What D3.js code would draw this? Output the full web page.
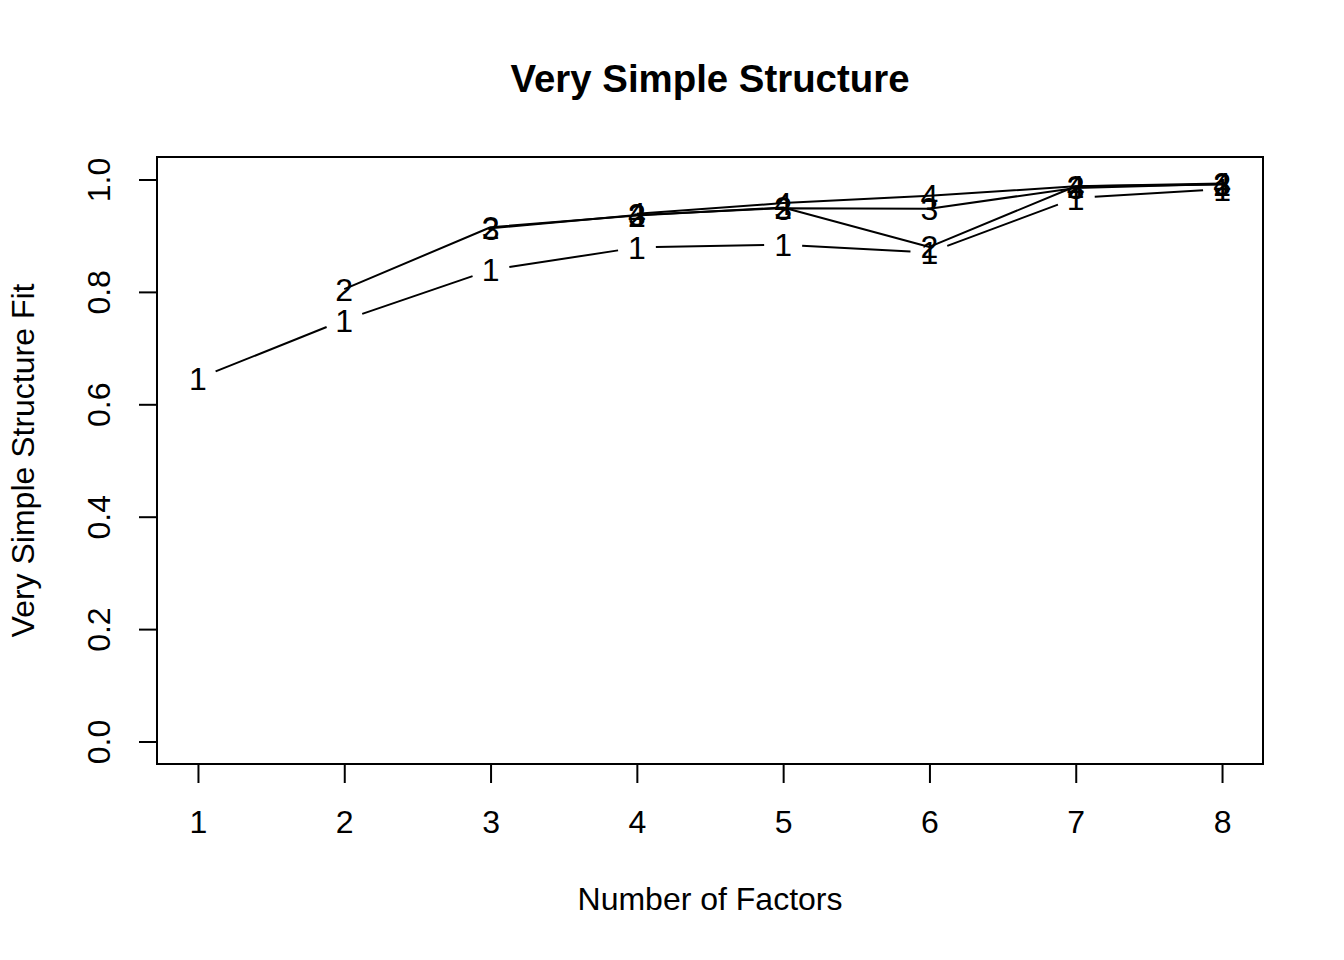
<!DOCTYPE html>
<html>
<head>
<meta charset="utf-8">
<script src="https://cdn.jsdelivr.net/npm/d3@7"></script>
<style>
  html, body { margin: 0; padding: 0; background: #ffffff; }
  svg { display: block; }
  text { font-family: "Liberation Sans", Arial, Helvetica, sans-serif; fill: #000; }
</style>
</head>
<body>
<svg id="chart" width="1344" height="960"></svg>
<script>
// ---- data ----
const factors = [1, 2, 3, 4, 5, 6, 7, 8];
const cfit1 = [0.646, 0.750, 0.839, 0.879, 0.884, 0.870, 0.967, 0.983];
const cfit2 = [null, 0.805, 0.915, 0.936, 0.950, 0.880, 0.988, 0.991];
const cfit3 = [null, null, 0.913, 0.937, 0.949, 0.948, 0.985, 0.992];
const cfit4 = [null, null, null, 0.939, 0.958, 0.971, 0.988, 0.993];
const seriesLabels = ["1", "2", "3", "4"];
const yTicks = [0, 0.2, 0.4, 0.6, 0.8, 1.0];
const titleText = "Very Simple Structure";
const xTitle = "Number of Factors";
const yTitle = "Very Simple Structure Fit";

// ---- layout ----
const box = { left: 157, right: 1263, top: 157, bottom: 764 };
const fs = 32;
const svg = d3.select("#chart");
svg.append("rect").attr("width", 1344).attr("height", 960).attr("fill", "#fff");

const x = d3.scaleLinear().domain([1 - 0.28, 8 + 0.28]).range([box.left, box.right]);
const y = d3.scaleLinear().domain([-0.04, 1.04]).range([box.bottom, box.top]);

// box
svg.append("rect")
  .attr("x", box.left).attr("y", box.top)
  .attr("width", box.right - box.left).attr("height", box.bottom - box.top)
  .attr("fill", "none").attr("stroke", "#000").attr("stroke-width", 2);

// x axis
const xAxis = svg.append("g")
  .attr("transform", `translate(0,${box.bottom})`)
  .call(d3.axisBottom(x).tickValues(factors).tickSize(19).tickSizeOuter(0).tickFormat(d3.format("d")));
xAxis.select(".domain").remove();
xAxis.selectAll(".tick line").attr("stroke", "#000").attr("stroke-width", 2);
xAxis.selectAll(".tick text")
  .attr("y", 69).attr("dy", null)
  .attr("font-size", fs)
  .style("font-family", '"Liberation Sans", Arial, sans-serif')
  .attr("fill", "#000");
svg.append("line")
  .attr("x1", x(1)).attr("x2", x(8)).attr("y1", box.bottom).attr("y2", box.bottom)
  .attr("stroke", "#000").attr("stroke-width", 2);

// y axis
const yAxis = svg.append("g")
  .attr("transform", `translate(${box.left},0)`)
  .call(d3.axisLeft(y).tickValues(yTicks).tickSize(18).tickSizeOuter(0).tickFormat(d3.format(".1f")));
yAxis.select(".domain").remove();
yAxis.selectAll(".tick line").attr("stroke", "#000").attr("stroke-width", 2);
yAxis.selectAll(".tick text")
  .attr("x", null).attr("dy", null)
  .attr("text-anchor", "middle")
  .attr("transform", `translate(${110 - box.left},0) rotate(-90)`)
  .attr("font-size", fs)
  .style("font-family", '"Liberation Sans", Arial, sans-serif')
  .attr("fill", "#000");
svg.append("line")
  .attr("x1", box.left).attr("x2", box.left).attr("y1", y(0)).attr("y2", y(1))
  .attr("stroke", "#000").attr("stroke-width", 2);

// titles
svg.append("text")
  .attr("x", (box.left + box.right) / 2).attr("y", 92)
  .attr("text-anchor", "middle")
  .attr("font-size", 38.4).attr("font-weight", "bold")
  .text(titleText);
svg.append("text")
  .attr("x", (box.left + box.right) / 2).attr("y", 910)
  .attr("text-anchor", "middle")
  .attr("font-size", fs)
  .text(xTitle);
svg.append("text")
  .attr("transform", `translate(34,${(box.top + box.bottom) / 2}) rotate(-90)`)
  .attr("text-anchor", "middle")
  .attr("font-size", fs)
  .text(yTitle);

// ---- series ----
const allSeries = [cfit1, cfit2, cfit3, cfit4];
const plotG = svg.append("g");

function pts(arr) {
  return factors.map((f, i) => ({ f, v: arr[i] })).filter(d => d.v !== null);
}

// series 1: type "b" (lines with gaps around points)
const gap = 19;
const p1 = pts(cfit1);
for (let i = 0; i < p1.length - 1; i++) {
  const x0 = x(p1[i].f), y0 = y(p1[i].v), x1 = x(p1[i + 1].f), y1 = y(p1[i + 1].v);
  const len = Math.hypot(x1 - x0, y1 - y0);
  const fr = gap / len;
  plotG.append("line")
    .attr("x1", x0 + fr * (x1 - x0)).attr("y1", y0 + fr * (y1 - y0))
    .attr("x2", x1 - fr * (x1 - x0)).attr("y2", y1 - fr * (y1 - y0))
    .attr("stroke", "#000").attr("stroke-width", 2);
}

// series 2-4: continuous lines
const line = d3.line().x(d => x(d.f)).y(d => y(d.v));
[cfit2, cfit3, cfit4].forEach(arr => {
  plotG.append("path").datum(pts(arr))
    .attr("d", line)
    .attr("fill", "none").attr("stroke", "#000").attr("stroke-width", 2)
    .attr("stroke-linejoin", "round");
});

// point labels
allSeries.forEach((arr, si) => {
  plotG.selectAll(null).data(pts(arr)).enter().append("text")
    .attr("x", d => x(d.f)).attr("y", d => y(d.v))
    .attr("dy", "0.36em")
    .attr("text-anchor", "middle")
    .attr("font-size", fs)
    .text(seriesLabels[si]);
});
</script>
</body>
</html>
